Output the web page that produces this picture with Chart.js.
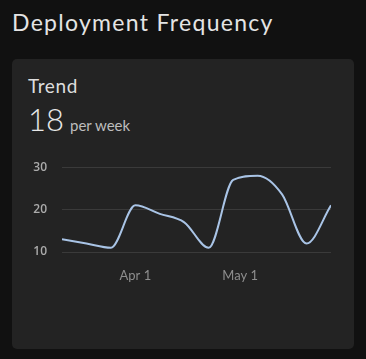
<!DOCTYPE html>
<html>
<head>
<meta charset="utf-8">
<script src="https://cdn.jsdelivr.net/npm/chart.js@4"></script>
<style>
  html, body { margin:0; padding:0; background:#111111; width:366px; height:359px; overflow:hidden; }
  body { font-family: "Lato", "Inter", sans-serif; position:relative; }
  #title { position:absolute; left:12px; top:8px; font-size:23px; color:#e4e4e4; letter-spacing:1.3px; font-family:"Lato", sans-serif; }
  #card { position:absolute; left:12px; top:59px; width:342px; height:290px; background:#232323; border-radius:5px; }
  #trend { position:absolute; left:16px; top:15px; font-size:19px; color:#dedede; letter-spacing:0.6px; }
  #big { position:absolute; left:16px; top:41px; font-size:31px; color:#e8e8e8; font-weight:300; }
  #unit { position:absolute; left:58px; top:57px; font-size:15px; color:#bdbdbd; }
  #wrap { position:absolute; left:16px; top:86px; width:303px; height:141px; }
</style>
</head>
<body>
<div id="title">Deployment Frequency</div>
<div id="card">
  <div id="trend">Trend</div>
  <div id="big">18</div>
  <div id="unit">per week</div>
  <div id="wrap"><canvas id="c"></canvas></div>
</div>
<script>
const dates = ["2024-03-11","2024-03-18","2024-03-25","2024-04-01","2024-04-08","2024-04-15","2024-04-22","2024-04-29","2024-05-06","2024-05-13","2024-05-20","2024-05-27"];
const deploysPerWeek = [13, 12, 11, 21, 19, 17, 11, 27, 28, 23.6, 12, 21];
const xTickDates = ["2024-04-01","2024-05-01"];
const xTickLabels = ["Apr 1","May 1"];
const yTicks = [10, 20, 30];

const base = Date.UTC(2024, 2, 1);
const toDay = s => { const [y,m,d] = s.split("-").map(Number); return (Date.UTC(y, m-1, d) - base) / 86400000; };
const pts = dates.map((d, i) => ({ x: toDay(d), y: deploysPerWeek[i] }));
const xTickVals = xTickDates.map(toDay);

new Chart(document.getElementById("c"), {
  type: "line",
  data: { datasets: [{ data: pts, borderColor: "#a9c4e6", borderWidth: 2, pointRadius: 0, cubicInterpolationMode: "monotone", fill: false }] },
  options: {
    responsive: true, maintainAspectRatio: false, animation: false,
    layout: { padding: 0 },
    plugins: { legend: { display: false }, tooltip: { enabled: false } },
    scales: {
      x: {
        type: "linear", min: toDay(dates[0]), max: toDay(dates[dates.length-1]),
        grid: { display: false, drawTicks: false },
        border: { display: false },
        afterBuildTicks: s => { s.ticks = xTickVals.map(v => ({ value: v })); },
        afterFit: s => { s.height = 34; },
        ticks: { padding: 16, color: "#8e8e8e", font: { family: "Lato", size: 13 }, maxRotation: 0,
          callback: (v) => { const i = xTickVals.indexOf(v); return i >= 0 ? xTickLabels[i] : ""; } }
      },
      y: {
        min: 10, max: 30,
        grid: { color: "#3a3a3a", drawTicks: false, lineWidth: 1 },
        border: { display: false },
        afterBuildTicks: s => { s.ticks = yTicks.map(v => ({ value: v })); },
        afterFit: s => { s.width = 34; },
        ticks: { padding: 15, color: "#ababab", font: { family: "Open Sans", size: 12, weight: "600" } }
      }
    }
  }
});
</script>
</body>
</html>
